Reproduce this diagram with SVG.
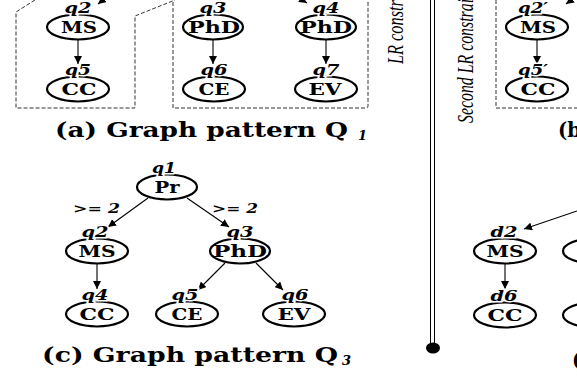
<svg xmlns="http://www.w3.org/2000/svg" width="577" height="385" viewBox="0 0 577 385">
<defs>
<marker id="ah" viewBox="0 0 10 10" refX="10" refY="5" markerWidth="8" markerHeight="8" orient="auto" markerUnits="userSpaceOnUse">
<path d="M0,0 L10,5 L0,10 z" fill="#000"/>
</marker>
<style>
.nd{fill:none;stroke:#000;stroke-width:2.2}
.nm{font-family:"DejaVu Serif",serif;font-weight:bold;font-size:16.5px;text-anchor:middle;fill:#000}
.lb{font-family:"DejaVu Serif",serif;font-weight:bold;font-style:italic;font-size:14.5px;text-anchor:middle;fill:#000;stroke:#fff;stroke-width:3;paint-order:stroke}
.ed{stroke:#000;stroke-width:1.1;fill:none;marker-end:url(#ah)}
.dash{fill:none;stroke:#333;stroke-width:1;stroke-dasharray:4 2}
.cap{font-family:"DejaVu Serif",serif;font-weight:bold;font-size:19.5px;fill:#000}
.sub{font-family:"DejaVu Serif",serif;font-weight:bold;font-style:italic;font-size:13px;fill:#000}
.cl{font-family:"DejaVu Serif",serif;font-weight:bold;font-style:italic;font-size:13px;fill:#000}
.rot{font-family:"Liberation Serif",serif;font-style:italic;font-size:24px;fill:#000}
</style>
</defs>

<!-- dashed frames -->
<g id="frames">
<path class="dash" d="M35,0 L16,12 L16,108 L135,108 L135,16 L175,0"/>
<path class="dash" d="M173,2 L173,108 L366,108 Q368,108 368,106 L368,0"/>
<path class="dash" d="M496,0 L496,108 L577,108"/>
</g>

<!-- separator -->
<g id="separator">
<rect x="430.5" y="-1" width="4" height="345" fill="#fff" stroke="#000" stroke-width="1"/>
<ellipse cx="433" cy="348" rx="7" ry="5.5" fill="#000"/>
</g>

<g id="side-labels">
<text class="rot" transform="translate(403,64) rotate(-90) scale(0.68,1)">LR constr</text>
<text class="rot" transform="translate(473,123) rotate(-90) scale(0.66,1)">Second LR constrai</text>
</g>

<!-- connectors -->
<g id="connectors">
<line class="ed" x1="78" y1="40" x2="78" y2="64"/>
<line class="ed" x1="213" y1="40" x2="213" y2="64"/>
<line class="ed" x1="326" y1="40" x2="326" y2="64"/>
<line class="ed" x1="537" y1="40" x2="537" y2="64"/>
<line class="ed" x1="108" y1="-4" x2="98" y2="4"/>
<line class="ed" x1="296" y1="-4" x2="307" y2="3"/>
<line class="ed" x1="577" y1="-4" x2="566" y2="4"/>
<line class="ed" x1="148" y1="198" x2="108" y2="227"/>
<line class="ed" x1="187" y1="198" x2="229" y2="227"/>
<line class="ed" x1="97" y1="264" x2="97" y2="289"/>
<line class="ed" x1="225" y1="263" x2="198" y2="290"/>
<line class="ed" x1="256" y1="263" x2="283" y2="290"/>
<line class="ed" x1="505" y1="264" x2="505" y2="289"/>
<line class="ed" x1="577" y1="211" x2="524" y2="229"/>
<text class="cl" x="73" y="213" textLength="47" lengthAdjust="spacingAndGlyphs">&gt;= 2</text>
<text class="cl" x="212" y="213" textLength="46" lengthAdjust="spacingAndGlyphs">&gt;= 2</text>
</g>

<!-- (a) Q1 -->
<g id="a_q2"><ellipse class="nd" cx="78" cy="27" rx="31" ry="12.5"/><text class="nm" x="79" y="33" textLength="36" lengthAdjust="spacingAndGlyphs">MS</text><text class="lb" x="78" y="13" textLength="27" lengthAdjust="spacingAndGlyphs">q2</text></g>
<g id="a_q5"><ellipse class="nd" cx="78" cy="89" rx="31" ry="12.5"/><text class="nm" x="79" y="95" textLength="35" lengthAdjust="spacingAndGlyphs">CC</text><text class="lb" x="78" y="75" textLength="26" lengthAdjust="spacingAndGlyphs">q5</text></g>
<g id="a_q3"><ellipse class="nd" cx="213" cy="27" rx="30" ry="12.5"/><text class="nm" x="214" y="33" textLength="52" lengthAdjust="spacingAndGlyphs">PhD</text><text class="lb" x="213" y="13" textLength="27" lengthAdjust="spacingAndGlyphs">q3</text></g>
<g id="a_q4"><ellipse class="nd" cx="326" cy="27" rx="30" ry="12.5"/><text class="nm" x="326" y="33" textLength="52" lengthAdjust="spacingAndGlyphs">PhD</text><text class="lb" x="326" y="13" textLength="27" lengthAdjust="spacingAndGlyphs">q4</text></g>
<g id="a_q6"><ellipse class="nd" cx="214" cy="89" rx="31" ry="12.5"/><text class="nm" x="214" y="95" textLength="31" lengthAdjust="spacingAndGlyphs">CE</text><text class="lb" x="214" y="75" textLength="27" lengthAdjust="spacingAndGlyphs">q6</text></g>
<g id="a_q7"><ellipse class="nd" cx="326" cy="89" rx="31" ry="12.5"/><text class="nm" x="325" y="95" textLength="33" lengthAdjust="spacingAndGlyphs">EV</text><text class="lb" x="326" y="75" textLength="27" lengthAdjust="spacingAndGlyphs">q7</text></g>
<g id="cap_a"><text class="cap" x="55" y="137" textLength="293" lengthAdjust="spacingAndGlyphs">(a)  Graph pattern Q</text><text class="sub" x="358" y="140">1</text></g>

<!-- (b) partial -->
<g id="b_q2p"><ellipse class="nd" cx="537" cy="27" rx="31" ry="12.5"/><text class="nm" x="538" y="33" textLength="36" lengthAdjust="spacingAndGlyphs">MS</text><text class="lb" x="533" y="13" textLength="30" lengthAdjust="spacingAndGlyphs">q2′</text></g>
<g id="b_q5p"><ellipse class="nd" cx="537" cy="89" rx="31" ry="12.5"/><text class="nm" x="538" y="95" textLength="35" lengthAdjust="spacingAndGlyphs">CC</text><text class="lb" x="533" y="75" textLength="30" lengthAdjust="spacingAndGlyphs">q5′</text></g>
<g id="cap_b"><text class="cap" x="558" y="137">(b</text></g>

<!-- (c) Q3 -->
<g id="c_q1"><ellipse class="nd" cx="167" cy="187" rx="30" ry="12.5"/><text class="nm" x="167" y="193" textLength="25" lengthAdjust="spacingAndGlyphs">Pr</text><text class="lb" x="164" y="173" textLength="24" lengthAdjust="spacingAndGlyphs">q1</text></g>
<g id="c_q2"><ellipse class="nd" cx="97" cy="251" rx="31" ry="12.5"/><text class="nm" x="97" y="257" textLength="37" lengthAdjust="spacingAndGlyphs">MS</text><text class="lb" x="95" y="237" textLength="27" lengthAdjust="spacingAndGlyphs">q2</text></g>
<g id="c_q3"><ellipse class="nd" cx="240" cy="251" rx="30" ry="12.5"/><text class="nm" x="240" y="257" textLength="54" lengthAdjust="spacingAndGlyphs">PhD</text><text class="lb" x="240" y="237" textLength="27" lengthAdjust="spacingAndGlyphs">q3</text></g>
<g id="c_q4"><ellipse class="nd" cx="97" cy="314" rx="31" ry="12.5"/><text class="nm" x="97" y="320" textLength="35" lengthAdjust="spacingAndGlyphs">CC</text><text class="lb" x="95" y="300" textLength="27" lengthAdjust="spacingAndGlyphs">q4</text></g>
<g id="c_q5"><ellipse class="nd" cx="187" cy="314" rx="31" ry="12.5"/><text class="nm" x="187" y="320" textLength="31" lengthAdjust="spacingAndGlyphs">CE</text><text class="lb" x="185" y="300" textLength="27" lengthAdjust="spacingAndGlyphs">q5</text></g>
<g id="c_q6"><ellipse class="nd" cx="294" cy="314" rx="31" ry="12.5"/><text class="nm" x="294" y="320" textLength="33" lengthAdjust="spacingAndGlyphs">EV</text><text class="lb" x="295" y="300" textLength="27" lengthAdjust="spacingAndGlyphs">q6</text></g>
<g id="cap_c"><text class="cap" x="42" y="362" textLength="296" lengthAdjust="spacingAndGlyphs">(c) Graph pattern Q</text><text class="sub" x="342" y="365">3</text></g>

<!-- (d) partial -->
<g id="d_d2"><ellipse class="nd" cx="505" cy="251" rx="31" ry="12.5"/><text class="nm" x="505" y="257" textLength="37" lengthAdjust="spacingAndGlyphs">MS</text><text class="lb" x="504" y="237" textLength="27" lengthAdjust="spacingAndGlyphs">d2</text></g>
<g id="d_d6"><ellipse class="nd" cx="505" cy="315" rx="31" ry="12.5"/><text class="nm" x="505" y="321" textLength="35" lengthAdjust="spacingAndGlyphs">CC</text><text class="lb" x="504" y="301" textLength="27" lengthAdjust="spacingAndGlyphs">d6</text></g>
<g id="d_right1"><ellipse class="nd" cx="594" cy="251" rx="31" ry="12.5"/></g>
<g id="d_right2"><ellipse class="nd" cx="594" cy="315" rx="31" ry="12.5"/></g>
<g id="cap_d"><text class="cap" x="572" y="367">(</text></g>
</svg>
